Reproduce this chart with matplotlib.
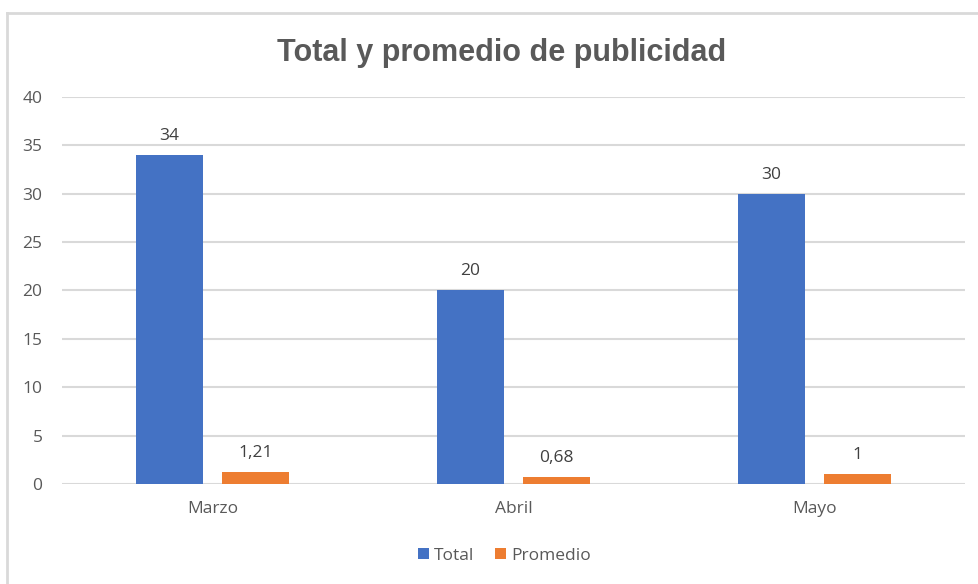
import numpy as np
import matplotlib.pyplot as plt
from matplotlib.lines import Line2D

# datos
meses = ["Marzo", "Abril", "Mayo"]
total = [34, 20, 30]
promedio = [1.21, 0.68, 1]
etiq_total = ["34", "20", "30"]
etiq_prom = ["1,21", "0,68", "1"]

azul = "#4472C4"
naranja = "#ED7D31"
gris = "#595959"
rejilla = "#D9D9D9"

plt.rcParams['font.family'] = ['Open Sans', 'DejaVu Sans']

fig = plt.figure(figsize=(9.79, 5.84), dpi=100)
ax = fig.add_axes([62 / 979, 100 / 584, 903 / 979, 387 / 584])

x = np.arange(len(meses))
w = 0.222
off = 0.143
b1 = ax.bar(x - off, total, w, color=azul, label="Total", zorder=3)
b2 = ax.bar(x + off, promedio, w, color=naranja, label="Promedio", zorder=3)

for rect, t in zip(b1, etiq_total):
    ax.annotate(t, (rect.get_x() + rect.get_width() / 2, rect.get_height()),
                xytext=(0, 8), textcoords="offset points", ha="center",
                va="bottom", fontsize=12.5, color="#404040")
for rect, t in zip(b2, etiq_prom):
    ax.annotate(t, (rect.get_x() + rect.get_width() / 2, rect.get_height()),
                xytext=(0, 8), textcoords="offset points", ha="center",
                va="bottom", fontsize=12.5, color="#404040")

ax.set_xlim(-0.5, 2.5)
ax.set_ylim(0, 40)
ax.set_yticks(range(0, 41, 5))
ax.set_xticks(x)
ax.set_xticklabels(meses)
ax.tick_params(axis="both", length=0, labelsize=12.5, labelcolor=gris)
ax.tick_params(axis="y", pad=14)
ax.tick_params(axis="x", pad=12)
ax.yaxis.grid(True, color=rejilla, linewidth=1.5, zorder=0)
for s in ax.spines.values():
    s.set_visible(False)

fig.text(0.512, 0.91, "Total y promedio de publicidad", ha="center", va="center",
         fontsize=22, fontweight="bold", color=gris, family="Liberation Sans")

ax.legend(loc="center", bbox_to_anchor=(0.49, -0.185), ncol=2, frameon=False,
          fontsize=12.5, labelcolor=gris, handlelength=0.6, handleheight=0.6,
          handletextpad=0.3, columnspacing=1.2)

# marco del gráfico
fig.add_artist(Line2D([7 / 979, 1], [1 - 13 / 584, 1 - 13 / 584], color=rejilla, lw=2))
fig.add_artist(Line2D([7 / 979, 7 / 979], [0, 1 - 13 / 584], color=rejilla, lw=2))

fig.savefig("out.png", dpi=100)
